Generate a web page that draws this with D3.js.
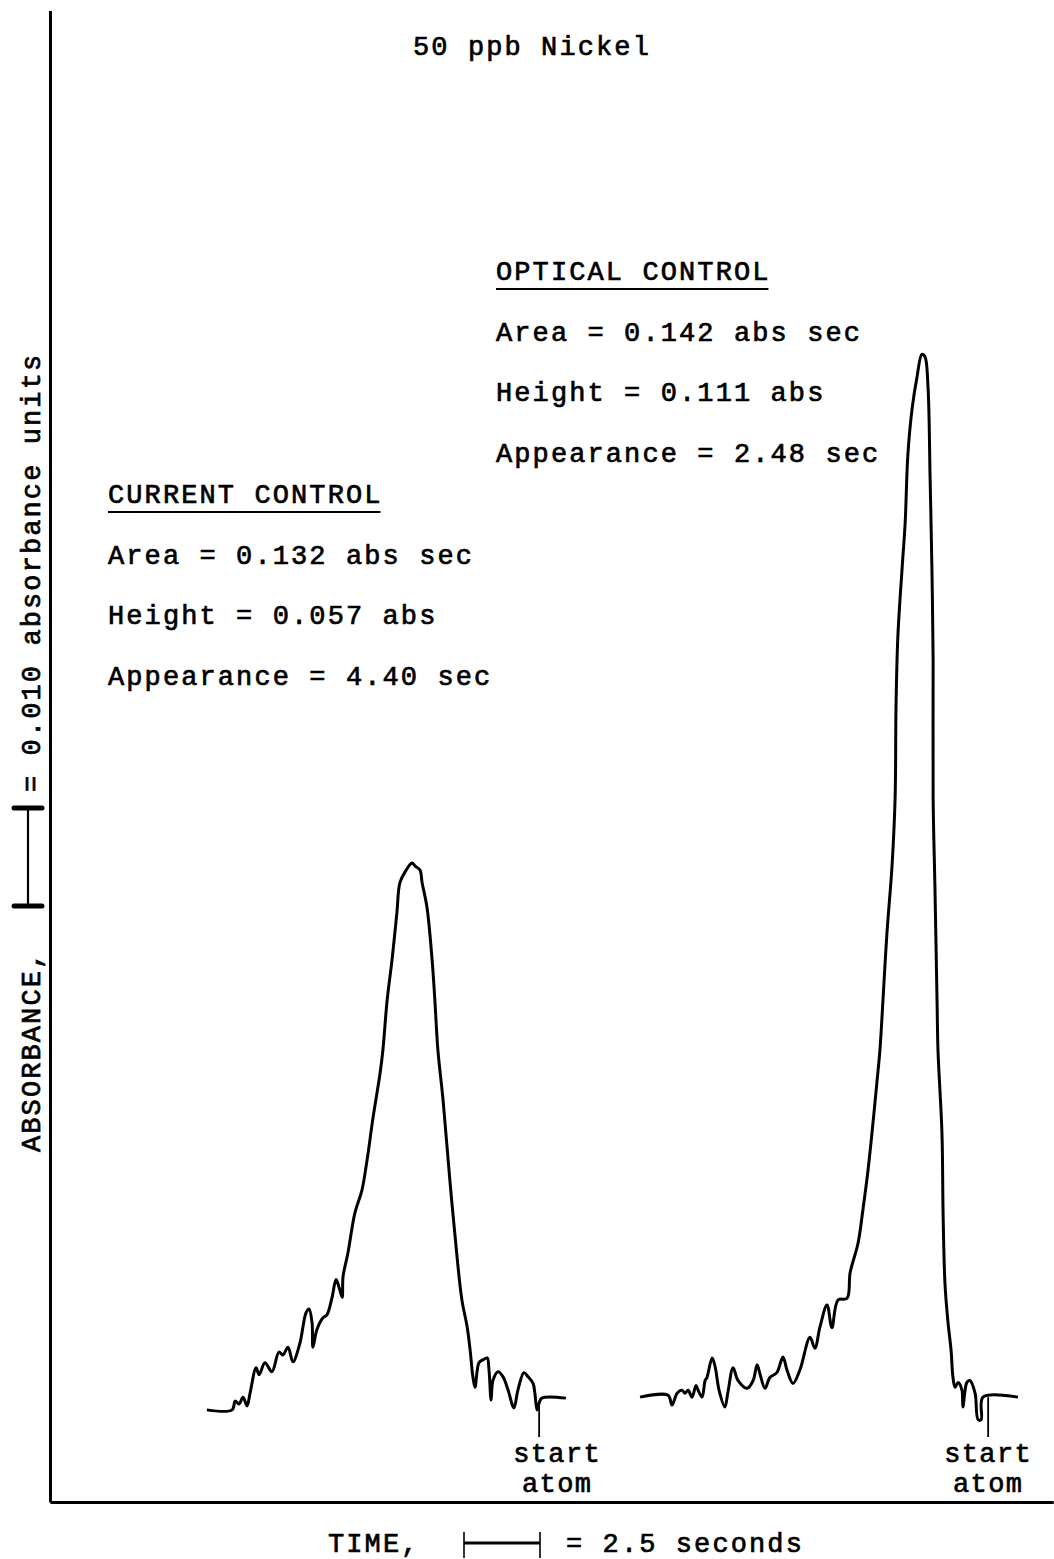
<!DOCTYPE html>
<html>
<head>
<meta charset="utf-8">
<script src="https://cdn.jsdelivr.net/npm/d3@7/dist/d3.min.js"></script>
<style>
  body { margin: 0; background: #fff; }
  text { font-family: "Liberation Mono", "DejaVu Sans Mono", monospace; fill: #000; stroke: #000; stroke-width: 0.7px; }
</style>
</head>
<body>
<div id="chart"></div>
<script>
// time in seconds, absorbance in abs units
const currentTime = [5.16, 5.99, 6.09, 6.22, 6.35, 6.48, 6.58, 6.78, 6.88, 7.07, 7.30, 7.53, 7.66, 7.83, 7.99, 8.22,
  8.42, 8.52, 8.62, 8.65, 8.78, 8.98, 9.11, 9.28, 9.41, 9.51, 9.61, 9.64, 9.80, 10.03, 10.26, 10.43, 10.63, 10.86,
  10.95, 11.09, 11.25, 11.41, 11.51, 11.68, 11.91, 12.01, 12.17, 12.24, 12.40, 12.57, 12.66, 12.76, 12.93, 13.16,
  13.39, 13.55, 13.72, 13.82, 13.91, 13.98, 14.11, 14.24, 14.38, 14.44, 14.51, 14.57, 14.74, 14.90, 15.07, 15.26,
  15.39, 15.59, 15.72, 15.89, 15.95, 16.02, 16.09, 16.18, 16.97];
const currentAbs = [0.0094, 0.0094, 0.0103, 0.0100, 0.0107, 0.0098, 0.0111, 0.0137, 0.0130, 0.0142, 0.0133, 0.0153,
  0.0150, 0.0158, 0.0143, 0.0162, 0.0193, 0.0197, 0.0183, 0.0158, 0.0176, 0.0188, 0.0191, 0.0209, 0.0227, 0.0219,
  0.0209, 0.0230, 0.0254, 0.0295, 0.0318, 0.0349, 0.0393, 0.0438, 0.0461, 0.0512, 0.0553, 0.0601, 0.0632, 0.0643,
  0.0652, 0.0649, 0.0645, 0.0632, 0.0607, 0.0553, 0.0512, 0.0461, 0.0410, 0.0326, 0.0250, 0.0206, 0.0179, 0.0155,
  0.0128, 0.0117, 0.0142, 0.0145, 0.0147, 0.0135, 0.0104, 0.0124, 0.0133, 0.0128, 0.0114, 0.0096, 0.0114, 0.0132,
  0.0128, 0.0121, 0.0111, 0.0094, 0.0101, 0.0106, 0.0106];

const opticalTime = [19.41, 20.33, 20.46, 20.63, 20.79, 20.89, 20.99, 21.12, 21.25, 21.32, 21.45, 21.55, 21.61, 21.78,
  21.88, 22.01, 22.20, 22.30, 22.47, 22.63, 22.93, 23.13, 23.26, 23.36, 23.52, 23.68, 23.91, 24.11, 24.24, 24.44,
  24.67, 25.00, 25.16, 25.33, 25.56, 25.72, 25.92, 26.22, 26.32, 26.58, 26.74, 26.91, 27.04, 27.20, 27.30, 27.40,
  27.53, 27.70, 27.80, 27.83, 27.89, 28.03, 28.13, 28.22, 28.36, 28.52, 28.68, 28.78, 28.88, 28.95, 29.01, 29.05,
  29.05, 29.11, 29.18, 29.21, 29.34, 29.38, 29.44, 29.54, 29.64, 29.70, 29.77, 29.87, 30.00, 30.03, 30.16, 30.26,
  30.43, 30.53, 30.63, 30.69, 31.84];
const opticalAbs = [0.0107, 0.0109, 0.0099, 0.0111, 0.0114, 0.0111, 0.0114, 0.0107, 0.0119, 0.0114, 0.0107, 0.0124,
  0.0127, 0.0147, 0.0138, 0.0114, 0.0097, 0.0112, 0.0137, 0.0124, 0.0116, 0.0124, 0.0140, 0.0130, 0.0116, 0.0127,
  0.0132, 0.0148, 0.0135, 0.0121, 0.0135, 0.0168, 0.0157, 0.0179, 0.0201, 0.0178, 0.0206, 0.0208, 0.0234, 0.0264,
  0.0298, 0.0339, 0.0377, 0.0428, 0.0461, 0.0512, 0.0580, 0.0650, 0.0719, 0.0813, 0.0883, 0.0953, 0.0999, 0.1069,
  0.1116, 0.1148, 0.1171, 0.1169, 0.1139, 0.1046, 0.0953, 0.0859, 0.0719, 0.0627, 0.0510, 0.0461, 0.0377, 0.0291,
  0.0223, 0.0183, 0.0155, 0.0128, 0.0117, 0.0122, 0.0114, 0.0097, 0.0122, 0.0124, 0.0111, 0.0084, 0.0084, 0.0107,
  0.0107];

const startAtomTime = [16.09, 30.86];
const startAtomLabel = ["start", "atom"];

const title = "50 ppb Nickel";
const opticalLabels = ["OPTICAL CONTROL", "Area = 0.142 abs sec", "Height = 0.111 abs", "Appearance = 2.48 sec"];
const currentLabels = ["CURRENT CONTROL", "Area = 0.132 abs sec", "Height = 0.057 abs", "Appearance = 4.40 sec"];

const timeBarSec = 2.5;
const absBarUnits = 0.010;

const width = 1054, height = 1559;
const fontSize = 27, spacing = 2.1;

const svg = d3.select("#chart").append("svg")
  .attr("width", width)
  .attr("height", height);

const x = d3.scaleLinear().domain([0, 33]).range([50, 1053.2]);
const y = d3.scaleLinear().domain([0, 0.1522]).range([1502, 10.5]);

// axes: bare lines, no ticks
svg.append("g")
  .attr("transform", `translate(${x(0)},0)`)
  .call(d3.axisLeft(y).ticks(0).tickSizeOuter(0))
  .call(g => g.select(".domain").attr("stroke-width", 3));
svg.append("g")
  .attr("transform", `translate(0,${y(0)})`)
  .call(d3.axisBottom(x).ticks(0).tickSizeOuter(0))
  .call(g => g.select(".domain").attr("stroke-width", 3));

const line = d3.line()
  .x(d => x(d[0]))
  .y(d => y(d[1]))
  .curve(d3.curveCatmullRom.alpha(0.5));

const traces = [d3.zip(currentTime, currentAbs), d3.zip(opticalTime, opticalAbs)];

svg.selectAll("path.trace")
  .data(traces)
  .join("path")
  .attr("class", "trace")
  .attr("d", line)
  .attr("fill", "none")
  .attr("stroke", "#000")
  .attr("stroke-width", 3)
  .attr("stroke-linejoin", "round");

// start atom markers
const markerBottom = 1437;
const labelShift = [18, 0];
startAtomTime.forEach((t, i) => {
  const tr = traces[i];
  const near = tr.reduce((a, b) => Math.abs(b[0] - t) < Math.abs(a[0] - t) ? b : a);
  svg.append("line")
    .attr("x1", x(t)).attr("x2", x(t))
    .attr("y1", y(near[1])).attr("y2", markerBottom)
    .attr("stroke", "#000").attr("stroke-width", 1.8);
  startAtomLabel.forEach((s, j) => {
    svg.append("text")
      .attr("x", x(t) + labelShift[i])
      .attr("y", 1462 + j * 30)
      .attr("text-anchor", "middle")
      .attr("font-size", fontSize)
      .attr("letter-spacing", 1.4)
      .text(s);
  });
});

function addText(str, tx, ty) {
  return svg.append("text")
    .attr("x", tx).attr("y", ty)
    .attr("font-size", fontSize)
    .attr("letter-spacing", spacing)
    .text(str);
}

addText(title, 413, 55);

function block(labels, bx, by) {
  labels.forEach((s, i) => {
    const t = addText(s, bx, by + i * 60.5);
    if (i === 0) {
      const w = t.node().getComputedTextLength();
      svg.append("line")
        .attr("x1", bx).attr("x2", bx + w - spacing)
        .attr("y1", by + 9).attr("y2", by + 9)
        .attr("stroke", "#000").attr("stroke-width", 2.2);
    }
  });
}
block(opticalLabels, 496, 280);
block(currentLabels, 108, 503);

// y label with scale bar
const barX = 28, barBottom = 906;
const barTop = barBottom - (y(0) - y(absBarUnits));
svg.append("text")
  .attr("transform", `translate(40,1152) rotate(-90)`)
  .attr("font-size", fontSize)
  .attr("letter-spacing", spacing)
  .text("ABSORBANCE,");
svg.append("line").attr("x1", barX).attr("x2", barX).attr("y1", barTop).attr("y2", barBottom)
  .attr("stroke", "#000").attr("stroke-width", 2.2);
[barTop, barBottom].forEach(v => svg.append("line")
  .attr("x1", barX - 14).attr("x2", barX + 14).attr("y1", v).attr("y2", v)
  .attr("stroke", "#000").attr("stroke-width", 5).attr("stroke-linecap", "round"));
svg.append("text")
  .attr("transform", `translate(40,792) rotate(-90)`)
  .attr("font-size", fontSize)
  .attr("letter-spacing", spacing)
  .text("= 0.010 absorbance units");

// time label with scale bar
const tbLeft = 464, tbY = 1543;
const tbRight = tbLeft + (x(timeBarSec) - x(0));
addText("TIME,", 328, 1552);
svg.append("line").attr("x1", tbLeft).attr("x2", tbRight).attr("y1", tbY).attr("y2", tbY)
  .attr("stroke", "#000").attr("stroke-width", 3);
[tbLeft, tbRight].forEach(v => svg.append("line")
  .attr("x1", v).attr("x2", v).attr("y1", tbY - 11).attr("y2", tbY + 15)
  .attr("stroke", "#000").attr("stroke-width", 1.6));
addText("= 2.5 seconds", 566, 1552);
</script>
</body>
</html>
